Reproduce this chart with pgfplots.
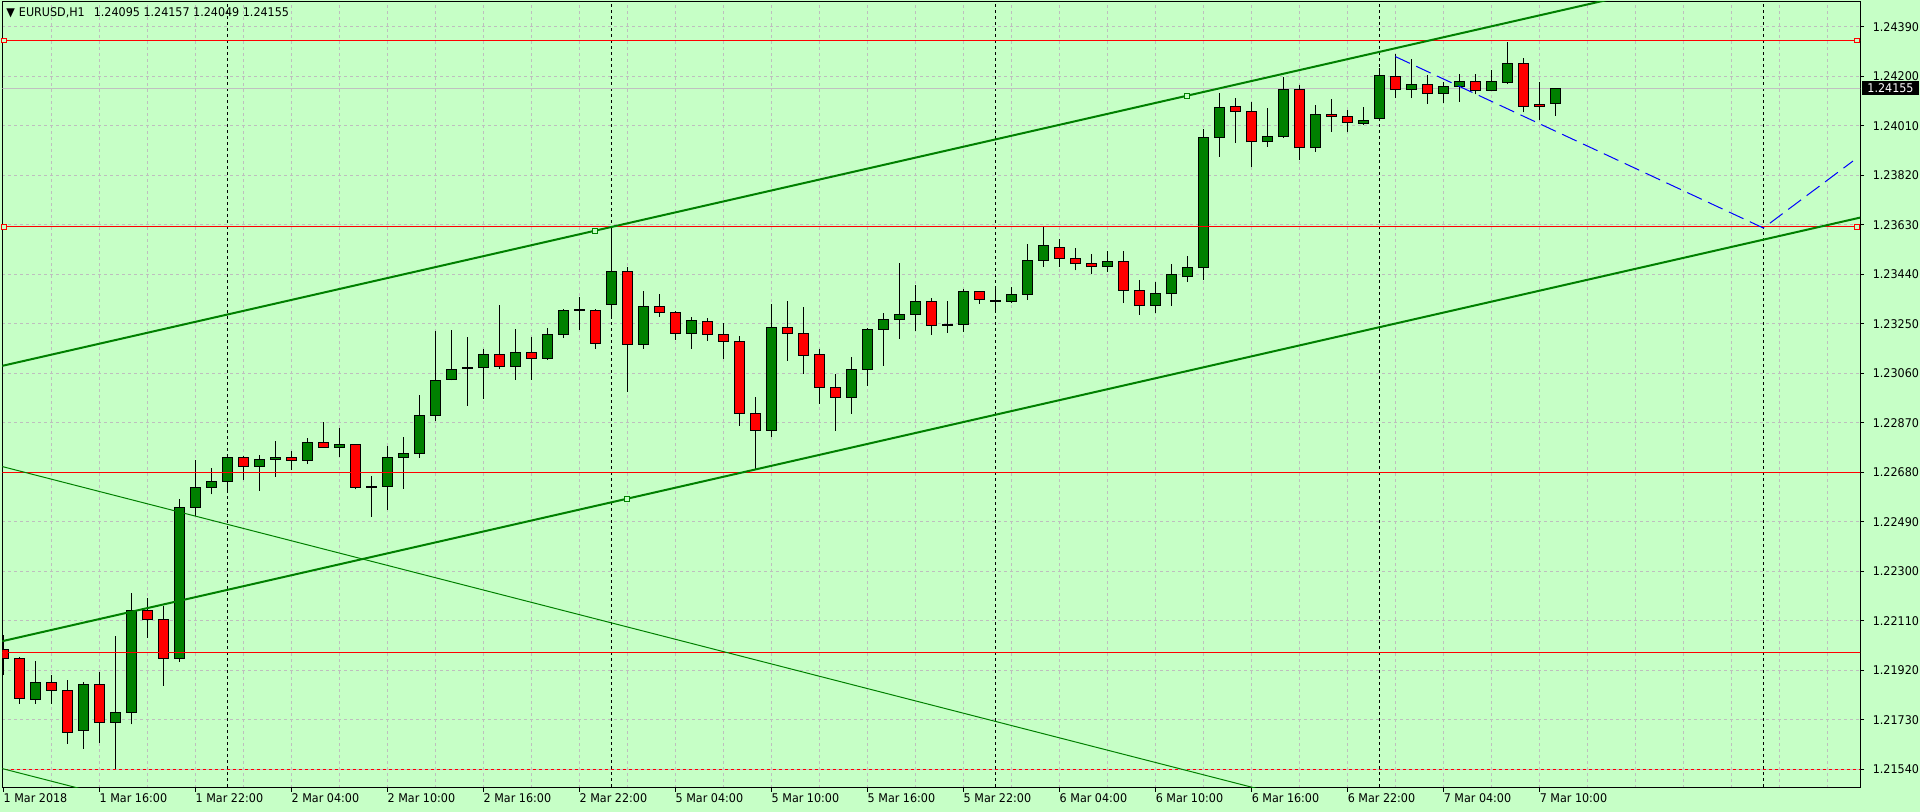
\documentclass[border=0pt]{standalone}
\usepackage{pgfplots}
\pgfplotsset{compat=1.18}
\usepackage{pgfplotstable}
\usepackage{fontspec}
\newfontfamily\mtfont[FakeStretch=0.93]{DejaVu Sans}
\newcommand\mtsize{\mtfont\fontsize{6}{7}\selectfont}
\definecolor{bg}{RGB}{198,255,198}
\definecolor{cgreen}{RGB}{0,128,0}
\definecolor{cred}{RGB}{255,0,0}
\definecolor{gridc}{RGB}{190,190,190}
\definecolor{bidc}{RGB}{192,192,192}

\pgfplotstableread{
i O H L C t
0 1.22001 1.22056 1.21902 1.21966 -1
1 1.21966 1.21970 1.21791 1.21813 -1
2 1.21809 1.21956 1.21791 1.21874 1
3 1.21874 1.21902 1.21791 1.21843 -1
4 1.21843 1.21883 1.21639 1.21682 -1
5 1.21690 1.21874 1.21620 1.21867 1
6 1.21867 1.21913 1.21643 1.21721 -1
7 1.21721 1.22052 1.21540 1.21759 1
8 1.21759 1.22217 1.21713 1.22151 1
9 1.22151 1.22198 1.22046 1.22116 -1
10 1.22116 1.22167 1.21861 1.21966 -1
11 1.21966 1.22578 1.21954 1.22546 1
12 1.22546 1.22728 1.22514 1.22623 1
13 1.22623 1.22696 1.22596 1.22646 1
14 1.22646 1.22747 1.22604 1.22738 1
15 1.22738 1.22743 1.22651 1.22703 -1
16 1.22703 1.22747 1.22610 1.22730 1
17 1.22730 1.22801 1.22664 1.22738 1
18 1.22738 1.22762 1.22689 1.22726 -1
19 1.22726 1.22812 1.22714 1.22795 1
20 1.22795 1.22872 1.22776 1.22776 -1
21 1.22776 1.22850 1.22740 1.22788 1
22 1.22788 1.22788 1.22615 1.22623 -1
23 1.22624 1.22665 1.22510 1.22624 0
24 1.22627 1.22781 1.22536 1.22738 1
25 1.22738 1.22816 1.22618 1.22753 1
26 1.22753 1.22977 1.22737 1.22899 1
27 1.22898 1.23223 1.22879 1.23033 1
28 1.23037 1.23227 1.23033 1.23076 1
29 1.23081 1.23200 1.22936 1.23081 0
30 1.23082 1.23154 1.22963 1.23133 1
31 1.23133 1.23323 1.23078 1.23087 -1
32 1.23087 1.23230 1.23036 1.23141 1
33 1.23141 1.23200 1.23035 1.23118 -1
34 1.23118 1.23233 1.23113 1.23210 1
35 1.23210 1.23306 1.23197 1.23302 1
36 1.23305 1.23353 1.23228 1.23305 0
37 1.23302 1.23306 1.23155 1.23175 -1
38 1.23325 1.23623 1.23274 1.23452 1
39 1.23452 1.23467 1.22990 1.23172 -1
40 1.23172 1.23376 1.23155 1.23317 1
41 1.23317 1.23365 1.23278 1.23294 -1
42 1.23294 1.23298 1.23190 1.23214 -1
43 1.23214 1.23277 1.23155 1.23264 1
44 1.23260 1.23271 1.23186 1.23210 -1
45 1.23210 1.23252 1.23117 1.23183 -1
46 1.23183 1.23202 1.22859 1.22907 -1
47 1.22907 1.22968 1.22691 1.22841 -1
48 1.22841 1.23326 1.22817 1.23237 1
49 1.23237 1.23338 1.23109 1.23214 -1
50 1.23214 1.23315 1.23059 1.23129 -1
51 1.23133 1.23154 1.22944 1.23006 -1
52 1.23006 1.23058 1.22840 1.22968 -1
53 1.22968 1.23122 1.22905 1.23076 1
54 1.23076 1.23233 1.23013 1.23229 1
55 1.23229 1.23291 1.23090 1.23268 1
56 1.23268 1.23482 1.23193 1.23287 1
57 1.23287 1.23399 1.23224 1.23337 1
58 1.23337 1.23348 1.23209 1.23244 -1
59 1.23247 1.23338 1.23216 1.23247 0
60 1.23248 1.23383 1.23220 1.23375 1
61 1.23375 1.23375 1.23328 1.23344 -1
62 1.23339 1.23383 1.23301 1.23339 0
63 1.23337 1.23393 1.23329 1.23363 1
64 1.23363 1.23555 1.23343 1.23494 1
65 1.23494 1.23624 1.23470 1.23550 1
66 1.23545 1.23575 1.23470 1.23500 -1
67 1.23500 1.23540 1.23455 1.23480 -1
68 1.23480 1.23520 1.23440 1.23470 -1
69 1.23470 1.23530 1.23450 1.23490 1
70 1.23490 1.23530 1.23330 1.23380 -1
71 1.23380 1.23420 1.23285 1.23320 -1
72 1.23320 1.23410 1.23290 1.23365 1
73 1.23365 1.23480 1.23320 1.23440 1
74 1.23430 1.23510 1.23410 1.23465 1
75 1.23465 1.23998 1.23420 1.23966 1
76 1.23965 1.24136 1.23891 1.24081 1
77 1.24085 1.24117 1.23944 1.24065 -1
78 1.24066 1.24102 1.23852 1.23949 -1
79 1.23949 1.24079 1.23929 1.23970 1
80 1.23969 1.24199 1.23965 1.24150 1
81 1.24150 1.24167 1.23879 1.23926 -1
82 1.23926 1.24090 1.23910 1.24054 1
83 1.24054 1.24113 1.23987 1.24047 -1
84 1.24047 1.24071 1.23985 1.24024 -1
85 1.24020 1.24081 1.24015 1.24031 1
86 1.24039 1.24231 1.24030 1.24204 1
87 1.24200 1.24286 1.24117 1.24149 -1
88 1.24149 1.24267 1.24117 1.24170 1
89 1.24170 1.24205 1.24095 1.24135 -1
90 1.24135 1.24179 1.24099 1.24162 1
91 1.24162 1.24209 1.24103 1.24181 1
92 1.24181 1.24209 1.24131 1.24147 -1
93 1.24147 1.24223 1.24147 1.24181 1
94 1.24177 1.24332 1.24170 1.24250 1
95 1.24250 1.24269 1.24062 1.24085 -1
96 1.24093 1.24177 1.24031 1.24085 -1
97 1.24095 1.24157 1.24049 1.24155 1
}\ohlc

\pgfplotsset{
  candle/.style={draw=none, mark=none, forget plot,
    error bars/y dir=plus, error bars/y explicit, error bars/error mark=none,
    error bars/error bar style={solid, line cap=butt, #1}},
}

\begin{document}
\begin{tikzpicture}
\path[use as bounding box, fill=bg] (0,0) rectangle (960pt,406pt);
\begin{axis}[
  at={(1.15pt,12pt)}, anchor=south west,
  scale only axis, width=928.85pt, height=393.25pt,
  xmin=-0.0625, xmax=116.04, ymin=1.214686, ymax=1.244875,
  axis background/.style={fill=bg},
  axis line style={black, line width=0.5pt},
  xtick={0,6,...,96},
  xticklabels={1 Mar 2018,1 Mar 16:00,1 Mar 22:00,2 Mar 04:00,2 Mar 10:00,2 Mar 16:00,2 Mar 22:00,5 Mar 04:00,5 Mar 10:00,5 Mar 16:00,5 Mar 22:00,6 Mar 04:00,6 Mar 10:00,6 Mar 16:00,6 Mar 22:00,7 Mar 04:00,7 Mar 10:00},
  minor xtick={3,6,...,114},
  xminorgrids=true, xmajorgrids=false, ymajorgrids=true,
  ytick={1.21540,1.21730,1.21920,1.22110,1.22300,1.22490,1.22680,1.22870,1.23060,1.23250,1.23440,1.23630,1.23820,1.24010,1.24200,1.24390},
  yticklabels={1.21540,1.21730,1.21920,1.22110,1.22300,1.22490,1.22680,1.22870,1.23060,1.23250,1.23440,1.23630,1.23820,1.24010,1.24200,1.24390},
  xtick pos=bottom, ytick pos=right, yticklabel pos=right,
  tick align=outside, major tick length=2pt, minor tick length=0pt,
  tick style={black, line width=0.5pt},
  grid style={gridc, line width=0.5pt, dash pattern=on 1.5pt off 1.5pt},
  minor grid style={gridc, line width=0.5pt, dash pattern=on 1.5pt off 1.5pt},
  tick label style={font=\mtsize, inner sep=0pt},
  xticklabel style={anchor=north west, yshift=-0.5pt},
  yticklabel style={anchor=west, xshift=4.2pt},
]
% period separators
\addplot[black, line width=0.5pt, dash pattern=on 1.5pt off 1.5pt, forget plot] coordinates {(14,1.2) (14,1.25)};
\addplot[black, line width=0.5pt, dash pattern=on 1.5pt off 1.5pt, forget plot] coordinates {(38,1.2) (38,1.25)};
\addplot[black, line width=0.5pt, dash pattern=on 1.5pt off 1.5pt, forget plot] coordinates {(62,1.2) (62,1.25)};
\addplot[black, line width=0.5pt, dash pattern=on 1.5pt off 1.5pt, forget plot] coordinates {(86,1.2) (86,1.25)};
\addplot[black, line width=0.5pt, dash pattern=on 1.5pt off 1.5pt, forget plot] coordinates {(110,1.2) (110,1.25)};
% bid line
\addplot[bidc, line width=0.5pt, forget plot] coordinates {(-1,1.24155) (117,1.24155)};
% wicks
\addplot[candle={draw=black, line width=0.5pt}]
  table[x=i, y=L, y error plus expr={\thisrow{H}-\thisrow{L}}] {\ohlc};
% body outlines
\addplot[candle={draw=black, line width=5.35pt}]
  table[x=i, y expr={min(\thisrow{O},\thisrow{C})-0.000019}, y error plus expr={abs(\thisrow{C}-\thisrow{O})+0.000038}] {\ohlc};
% doji thicker
\addplot[candle={draw=black, line width=5.35pt}, restrict expr to domain={\thisrow{t}}{-0.5:0.5}]
  table[x=i, y expr={\thisrow{O}-0.000038}, y error plus expr={0.000076}] {\ohlc};
% bull bodies
\addplot[candle={draw=cgreen, line width=4.35pt}, restrict expr to domain={\thisrow{t}}{0.5:1.5}]
  table[x=i, y expr={min(\thisrow{O},\thisrow{C})+0.000019}, y error plus expr={abs(\thisrow{C}-\thisrow{O})-0.000038}] {\ohlc};
% bear bodies
\addplot[candle={draw=cred, line width=4.35pt}, restrict expr to domain={\thisrow{t}}{-1.5:-0.5}]
  table[x=i, y expr={min(\thisrow{O},\thisrow{C})+0.000019}, y error plus expr={abs(\thisrow{C}-\thisrow{O})-0.000038}] {\ohlc};
% horizontal levels
\addplot[cred, line width=0.5pt, forget plot] coordinates {(-1,1.24338) (117,1.24338)};
\addplot[cred, line width=0.5pt, forget plot] coordinates {(-1,1.23622) (117,1.23622)};
\addplot[cred, line width=0.5pt, forget plot] coordinates {(-1,1.22678) (117,1.22678)};
\addplot[cred, line width=0.5pt, forget plot] coordinates {(-1,1.21989) (117,1.21989)};
\addplot[cred, line width=0.5pt, dash pattern=on 1.5pt off 1.5pt, forget plot] coordinates {(-1,1.21540) (117,1.21540)};
% channel
\addplot[cgreen, line width=1pt, forget plot] coordinates {(-1,1.230758) (117,1.247281)};
\addplot[cgreen, line width=1pt, forget plot] coordinates {(-1,1.220190) (117,1.236713)};
\addplot[cgreen, line width=0.5pt, forget plot] coordinates {(-1,1.227171) (81,1.214248)};
\addplot[cgreen, line width=0.5pt, forget plot] coordinates {(-1,1.215578) (10,1.213845)};
% blue dashed
\addplot[blue, line width=0.5pt, dash pattern=on 8pt off 3.5pt, forget plot] coordinates {(87,1.24276) (110,1.23618) (115.6,1.23875)};
% anchor markers
\addplot[only marks, mark=square*, mark size=1.2pt, mark options={draw=cgreen, fill=bg, line width=0.5pt, solid}, forget plot] coordinates {(37,1.236079) (74,1.24126) (39,1.225791)};
\addplot[only marks, mark=square*, mark size=1.2pt, mark options={draw=cred, fill=bg, line width=0.5pt, solid}, forget plot] coordinates {(0.03,1.24338) (115.85,1.24338) (0.03,1.23622) (115.85,1.23622)};
\coordinate (tag) at (axis cs:116.04,1.24155);
\end{axis}
\node[anchor=west, fill=black, text=white, inner xsep=2.5pt, inner ysep=1.2pt, font=\mtsize] at ([xshift=1pt]tag) {1.24155};
\node[anchor=west, inner sep=0pt, font=\mtsize] at (3pt,399.35pt) {▼\hspace{2pt}EURUSD,H1\hspace{4.5pt}1.24095 1.24157 1.24049 1.24155};
\end{tikzpicture}
\end{document}
